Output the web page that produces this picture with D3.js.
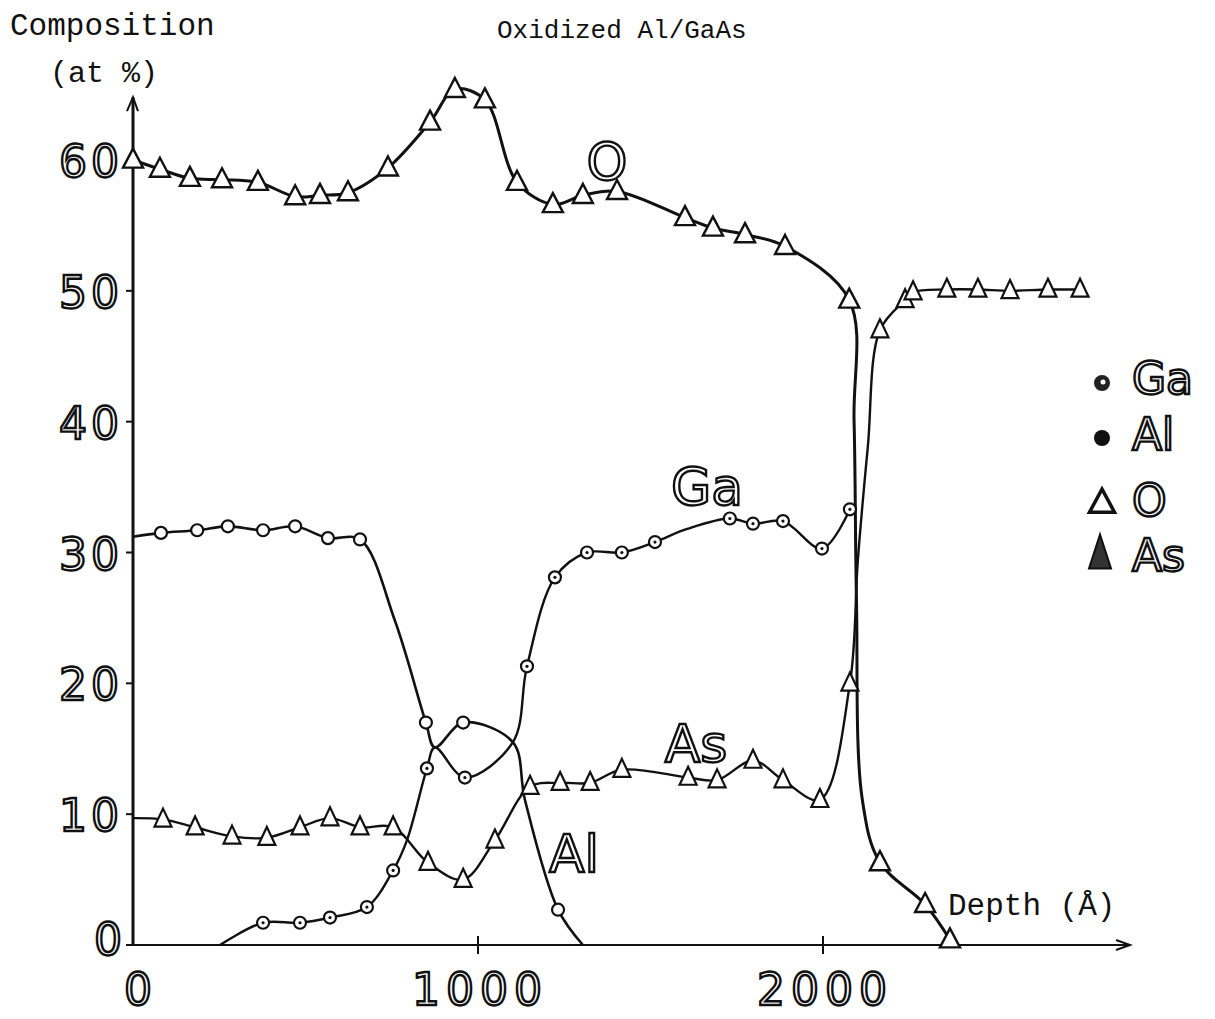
<!DOCTYPE html>
<html>
<head>
<meta charset="utf-8">
<script src="https://cdn.jsdelivr.net/npm/d3@7"></script>
<style>
body { margin: 0; background: #fff; }
</style>
</head>
<body>
<div id="chart"></div>
<script>
// depth (Angstrom), composition (at %), 1 = plotted symbol / 0 = point on the drawn curve only
var oData = [
    [0, 60.0, 1], [78, 59.3, 1], [165, 58.6, 1], [258, 58.5, 1], [362, 58.3, 1],
    [470, 57.2, 1], [542, 57.3, 1], [623, 57.5, 1], [739, 59.4, 1], [861, 62.9, 1],
    [933, 65.4, 1], [1020, 64.6, 1], [1113, 58.3, 1], [1217, 56.6, 1], [1304, 57.3, 1],
    [1403, 57.6, 1], [1600, 55.6, 1], [1681, 54.8, 1], [1774, 54.3, 1], [1890, 53.4, 1],
    [2076, 49.3, 1], [2090, 40.1, 0], [2097, 26.4, 0], [2114, 11.1, 0], [2165, 6.3, 1],
    [2296, 3.1, 1], [2368, 0.4, 1]
];
var asData = [
    [0, 9.7, 0], [87, 9.6, 1], [180, 9.0, 1], [287, 8.3, 1], [388, 8.2, 1],
    [484, 9.0, 1], [571, 9.7, 1], [658, 9.0, 1], [754, 9.0, 1], [855, 6.3, 1],
    [957, 5.0, 1], [1049, 8.0, 1], [1151, 12.1, 1], [1238, 12.4, 1], [1325, 12.4, 1],
    [1417, 13.4, 1], [1609, 12.8, 1], [1693, 12.6, 1], [1797, 14.1, 1], [1884, 12.6, 1],
    [1991, 11.1, 1], [2078, 20.0, 1], [2101, 29.4, 0], [2130, 38.1, 0], [2165, 47.0, 1],
    [2238, 49.3, 1], [2261, 49.9, 1], [2359, 50.1, 1], [2449, 50.1, 1], [2542, 50.0, 1],
    [2652, 50.1, 1], [2745, 50.1, 1]
];
var gaData = [
    [252, 0.0, 0], [377, 1.7, 1], [484, 1.7, 1], [571, 2.1, 1], [678, 2.9, 1],
    [754, 5.7, 1], [794, 8.0, 0], [852, 13.5, 1], [875, 15.1, 0], [962, 12.8, 1],
    [1101, 15.5, 0], [1142, 21.3, 1], [1223, 28.1, 1], [1316, 30.0, 1], [1417, 30.0, 1],
    [1513, 30.8, 1], [1606, 31.8, 0], [1730, 32.6, 1], [1797, 32.2, 1], [1884, 32.4, 1],
    [1997, 30.3, 1], [2078, 33.3, 1]
];
var alData = [
    [0, 31.2, 0], [81, 31.5, 1], [186, 31.7, 1], [275, 32.0, 1], [377, 31.7, 1],
    [470, 32.0, 1], [565, 31.1, 1], [658, 31.0, 1], [759, 24.8, 0], [849, 17.0, 1],
    [875, 15.1, 0], [957, 17.0, 1], [1101, 15.5, 0], [1136, 11.1, 0], [1232, 2.7, 1],
    [1304, 0.0, 0]
];
var depthTicks = [0, 1000, 2000];
var compTicks = [0, 10, 20, 30, 40, 50, 60];
var legendNames = ["Ga", "Al", "O", "As"];

var width = 1215, height = 1019;

var svg = d3.select("#chart")
    .append("svg")
    .attr("width", width)
    .attr("height", height)
    .style("background", "#fff");

var x = d3.scaleLinear().domain([0, 2000]).range([133, 823]);
var y = d3.scaleLinear().domain([0, 60]).range([945, 160]);

var outlined = function (sel, size) {
    sel.style("font-family", "'DejaVu Sans', sans-serif")
        .style("font-size", size + "px")
        .attr("fill", "#fff")
        .attr("stroke", "#111")
        .attr("stroke-width", 2.4);
};
var typed = function (sel, size) {
    sel.style("font-family", "'Liberation Mono', 'DejaVu Sans Mono', monospace")
        .style("font-size", size + "px")
        .attr("fill", "#111");
};

// axes
svg.append("line")
    .attr("x1", x(0)).attr("x2", x(0))
    .attr("y1", y(0)).attr("y2", y(64.8))
    .attr("stroke", "#111").attr("stroke-width", 3);
svg.append("path")
    .attr("d", "M" + (x(0) - 6) + "," + (y(64.8) + 14) + "L" + x(0) + "," + y(64.8) + "L" + (x(0) + 5) + "," + (y(64.8) + 14))
    .attr("fill", "none").attr("stroke", "#111").attr("stroke-width", 2);
svg.append("line")
    .attr("x1", x(0)).attr("x2", x(2890))
    .attr("y1", y(0)).attr("y2", y(0))
    .attr("stroke", "#111").attr("stroke-width", 2.2);
svg.append("path")
    .attr("d", "M" + (x(2890) - 14) + "," + (y(0) - 5) + "L" + x(2890) + "," + y(0) + "L" + (x(2890) - 14) + "," + (y(0) + 5))
    .attr("fill", "none").attr("stroke", "#111").attr("stroke-width", 2);

// y ticks
svg.selectAll(".ytick")
    .data(compTicks)
    .join("line")
    .attr("x1", x(0) - 7).attr("x2", x(0))
    .attr("y1", d => y(d)).attr("y2", d => y(d))
    .attr("stroke", "#111").attr("stroke-width", 2);
svg.selectAll(".ylab")
    .data(compTicks)
    .join("text")
    .attr("x", d => d === 0 ? x(0) - 7 : x(0) - 10)
    .attr("y", d => d === 0 ? y(d) + 10 : y(d) + 17)
    .attr("text-anchor", "end")
    .style("letter-spacing", "4px")
    .text(d => d)
    .call(outlined, 44);

// x ticks
svg.selectAll(".xtick")
    .data(depthTicks.slice(1))
    .join("line")
    .attr("x1", d => x(d)).attr("x2", d => x(d))
    .attr("y1", y(0) - 9).attr("y2", y(0) + 9)
    .attr("stroke", "#111").attr("stroke-width", 2);
svg.selectAll(".xlab")
    .data(depthTicks)
    .join("text")
    .attr("x", d => d === 0 ? x(d) + 8 : x(d) + 2)
    .attr("y", 1005)
    .attr("text-anchor", "middle")
    .style("letter-spacing", "6px")
    .text(d => d)
    .call(outlined, 44);

// curves
var line = d3.line()
    .x(d => x(d[0]))
    .y(d => y(d[1]))
    .curve(d3.curveCatmullRom.alpha(0.5));

[[oData, 3], [asData, 2.4], [gaData, 2.4], [alData, 2.6]].forEach(function (s) {
    svg.append("path")
        .datum(s[0])
        .attr("d", line)
        .attr("fill", "none")
        .attr("stroke", "#111")
        .attr("stroke-width", s[1])
        .attr("stroke-linejoin", "round");
});

function tri(w, h) {
    return "M0," + (-h * 0.6) + "L" + (w / 2) + "," + (h * 0.4) + "L" + (-w / 2) + "," + (h * 0.4) + "Z";
}

svg.selectAll(".oMark")
    .data(oData.filter(d => d[2]))
    .join("path")
    .attr("transform", d => "translate(" + x(d[0]) + "," + y(d[1]) + ")")
    .attr("d", tri(20, 19))
    .attr("fill", "#fff").attr("stroke", "#111").attr("stroke-width", 2.4);

svg.selectAll(".asMark")
    .data(asData.filter(d => d[2]))
    .join("path")
    .attr("transform", d => "translate(" + x(d[0]) + "," + y(d[1]) + ")")
    .attr("d", tri(17, 18))
    .attr("fill", "#fff").attr("stroke", "#111").attr("stroke-width", 2.2);

svg.selectAll(".gaMark")
    .data(gaData.filter(d => d[2]))
    .join("circle")
    .attr("cx", d => x(d[0])).attr("cy", d => y(d[1]))
    .attr("r", 6)
    .attr("fill", "#fff").attr("stroke", "#111").attr("stroke-width", 2.2);
svg.selectAll(".gaDot")
    .data(gaData.filter(d => d[2]))
    .join("circle")
    .attr("cx", d => x(d[0])).attr("cy", d => y(d[1]))
    .attr("r", 1.6)
    .attr("fill", "#111");

svg.selectAll(".alMark")
    .data(alData.filter(d => d[2]))
    .join("circle")
    .attr("cx", d => x(d[0])).attr("cy", d => y(d[1]))
    .attr("r", 6)
    .attr("fill", "#fff").attr("stroke", "#111").attr("stroke-width", 2.2);

// curve labels
svg.append("text").attr("x", x(1374)).attr("y", y(58.5)).attr("text-anchor", "middle").text("O").call(outlined, 52);
svg.append("text").attr("x", x(1664)).attr("y", y(33.6)).attr("text-anchor", "middle").text("Ga").call(outlined, 52);
svg.append("text").attr("x", x(1632)).attr("y", y(14.0)).attr("text-anchor", "middle").text("As").call(outlined, 52);
svg.append("text").attr("x", x(1278)).attr("y", y(5.6)).attr("text-anchor", "middle").text("Al").call(outlined, 52);

// legend
var legend = svg.append("g").attr("transform", "translate(1102,0)");
var legRows = [378, 434, 500, 555];
legend.selectAll("text")
    .data(legendNames)
    .join("text")
    .attr("x", 30)
    .attr("y", (d, i) => legRows[i] + 16)
    .text(d => d)
    .call(outlined, 44);
legend.append("circle").attr("cx", 0).attr("cy", legRows[0] + 5).attr("r", 8).attr("fill", "#222");
legend.append("circle").attr("cx", 1).attr("cy", legRows[0] + 4).attr("r", 2.5).attr("fill", "#fff");
legend.append("circle").attr("cx", 0).attr("cy", legRows[1] + 4).attr("r", 8).attr("fill", "#111");
legend.append("path").attr("transform", "translate(0," + (legRows[2] + 3) + ")").attr("d", tri(25, 23))
    .attr("fill", "#fff").attr("stroke", "#111").attr("stroke-width", 3.5);
legend.append("path").attr("transform", "translate(-2," + legRows[3] + ")").attr("d", tri(22, 34))
    .attr("fill", "#333").attr("stroke", "#111").attr("stroke-width", 2);

// typewritten titles
svg.append("text").attr("x", 10).attr("y", 35).text("Composition").call(typed, 31);
svg.append("text").attr("x", 50).attr("y", 82).text("(at %)").call(typed, 30);
svg.append("text").attr("x", 497).attr("y", 38).text("Oxidized Al/GaAs").call(typed, 26);
svg.append("text").attr("x", 948).attr("y", 915).text("Depth (\u00c5)").call(typed, 31);
</script>
</body>
</html>
